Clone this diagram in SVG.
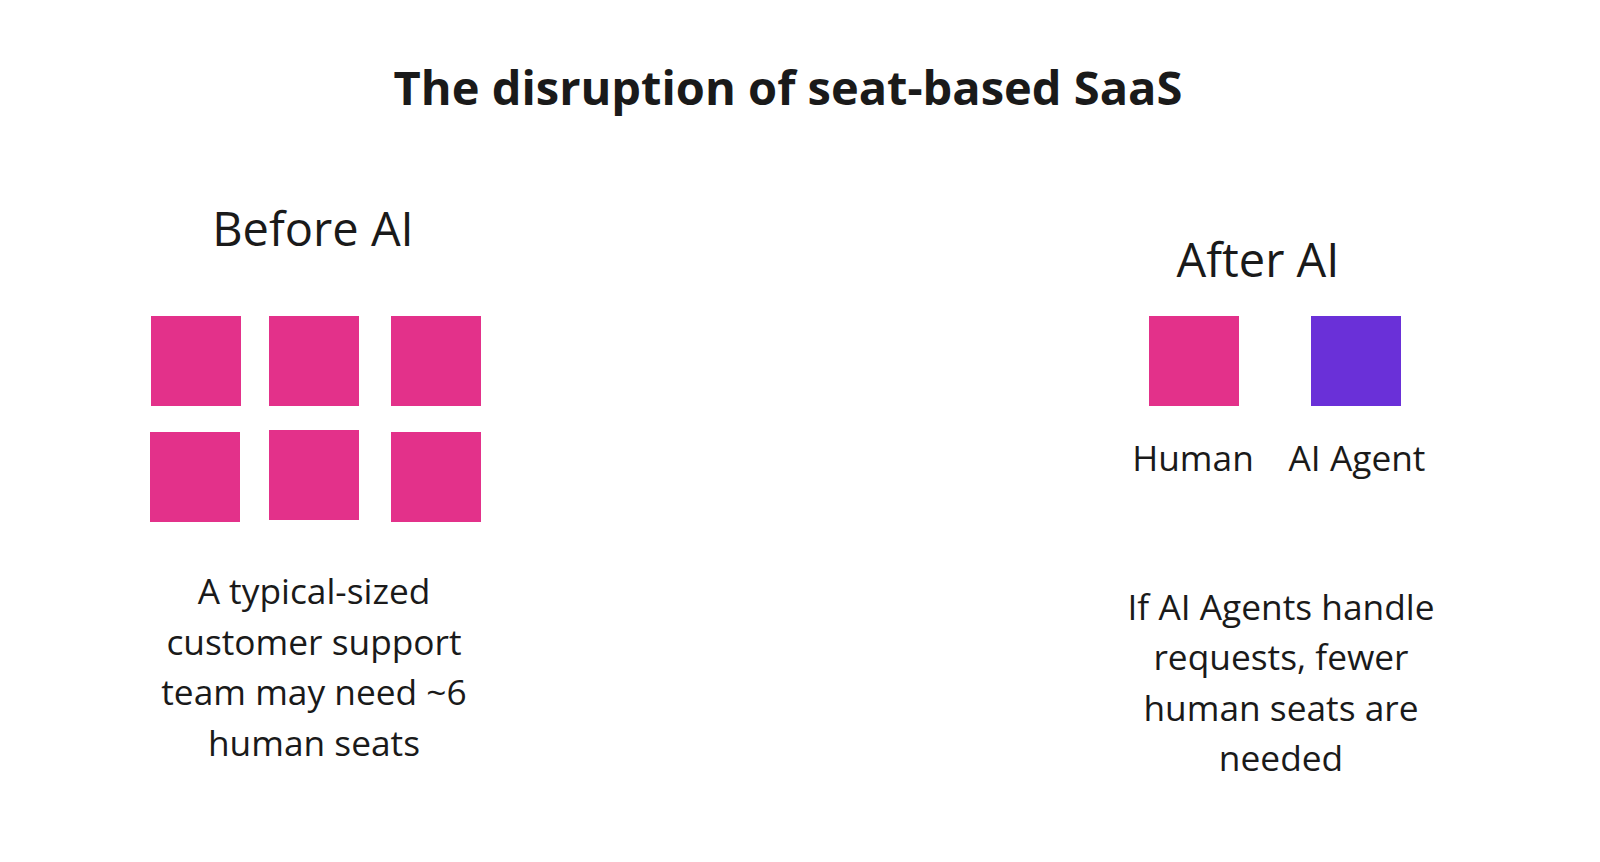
<svg xmlns="http://www.w3.org/2000/svg" width="1600" height="862" viewBox="0 0 1600 862">
<style>
text{font-family:"Open Sans","Noto Sans",sans-serif;fill:#1a1a1a;text-anchor:middle}
.t{font-size:47px;font-weight:bold}
.h{font-size:47px}
.p{font-size:35.3px}
.pk{fill:#E3318A}
.pu{fill:#6A30D8}
</style>
<rect width="1600" height="862" fill="#fff"/>
<text class="t" x="788" y="105">The disruption of seat-based SaaS</text>
<g id="before">
<text class="h" x="313" y="246">Before AI</text>
<rect class="pk" x="151" y="316" width="90" height="90"/>
<rect class="pk" x="269" y="316" width="90" height="90"/>
<rect class="pk" x="391" y="316" width="90" height="90"/>
<rect class="pk" x="150" y="432" width="90" height="90"/>
<rect class="pk" x="269" y="430" width="90" height="90"/>
<rect class="pk" x="391" y="432" width="90" height="90"/>
<text class="p"><tspan x="314" y="604">A typical-sized</tspan><tspan x="314" y="655">customer support</tspan><tspan x="314" y="705">team may need ~6</tspan><tspan x="314" y="756">human seats</tspan></text>
</g>
<g id="after">
<text class="h" x="1258" y="277">After AI</text>
<rect class="pk" x="1149" y="316" width="90" height="90"/>
<rect class="pu" x="1311" y="316" width="90" height="90"/>
<text class="p" x="1193" y="471">Human</text>
<text class="p" x="1357" y="471">AI Agent</text>
<text class="p"><tspan x="1281" y="620">If AI Agents handle</tspan><tspan x="1281" y="670">requests, fewer</tspan><tspan x="1281" y="721">human seats are</tspan><tspan x="1281" y="771">needed</tspan></text>
</g>
<g id="connectors"/>
</svg>
